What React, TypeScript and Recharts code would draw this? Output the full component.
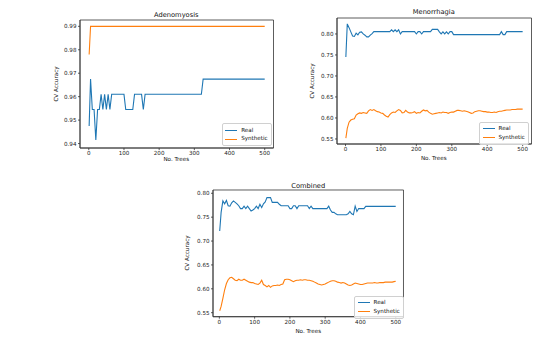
import { LineChart, Line, XAxis, YAxis, ReferenceArea } from 'recharts';

const BLUE = '#1f77b4';
const ORANGE = '#ff7f0e';
const FONT = '"DejaVu Sans", sans-serif';

// number of trees (x), sampled every 5
const trees = [1, ...Array.from({ length: 100 }, (_, i) => (i + 1) * 5)];
const adenoTrees = [1, 5, 10, 15, 20, 25, 30, 35, 40, 45, 50, 55, 60, 65, 70, 100, 105, 125, 130, 150, 155, 160, 320, 325, 500];

const xTicks = [0, 100, 200, 300, 400, 500];
const adenoTicks = [0.94, 0.95, 0.96, 0.97, 0.98, 0.99];
const accTicks = [0.55, 0.6, 0.65, 0.7, 0.75, 0.8];

const adenoReal = [0.9475, 0.9675, 0.9545, 0.9545, 0.9415, 0.9545, 0.9545, 0.961, 0.9545, 0.961, 0.9545, 0.961, 0.9545, 0.961, 0.961, 0.961, 0.9545, 0.9545, 0.961, 0.961, 0.9545, 0.961, 0.961, 0.9675, 0.9675];
const adenoSynthetic = [0.978, 0.99, 0.99, 0.99, 0.99, 0.99, 0.99, 0.99, 0.99, 0.99, 0.99, 0.99, 0.99, 0.99, 0.99, 0.99, 0.99, 0.99, 0.99, 0.99, 0.99, 0.99, 0.99, 0.99, 0.99];

const menoReal = [
  0.745, 0.824, 0.815, 0.805, 0.795, 0.794, 0.802, 0.798, 0.804, 0.805, 0.8,
  0.797, 0.793, 0.793, 0.797, 0.801, 0.8055, 0.8055, 0.8055, 0.8055, 0.8055,
  0.8055, 0.8055, 0.8055, 0.8055, 0.8055, 0.81, 0.8055, 0.81, 0.8055, 0.81,
  0.8, 0.8055, 0.8055, 0.8055, 0.8055, 0.8055, 0.8055, 0.8055, 0.8055, 0.8,
  0.8055, 0.8055, 0.8, 0.8055, 0.8055, 0.8055, 0.8055, 0.8055, 0.811, 0.811,
  0.811, 0.811, 0.805, 0.8, 0.805, 0.8, 0.805, 0.8, 0.8055, 0.8055,
  0.7985, 0.7985, 0.7985, 0.7985, 0.7985, 0.7985, 0.7985, 0.7985, 0.7985, 0.7985,
  0.7985, 0.7985, 0.7985, 0.7985, 0.7985, 0.7985, 0.7985, 0.7985, 0.7985, 0.7985,
  0.7985, 0.7985, 0.7985, 0.7985, 0.7985, 0.7985, 0.7985, 0.8055, 0.7985, 0.7985,
  0.8055, 0.8055, 0.8055, 0.8055, 0.8055, 0.8055, 0.8055, 0.8055, 0.8055, 0.8055,
];
const menoSynthetic = [
  0.552, 0.575, 0.59, 0.595, 0.597, 0.598, 0.607, 0.61, 0.612, 0.611, 0.613,
  0.612, 0.611, 0.617, 0.62, 0.618, 0.62, 0.617, 0.615, 0.614, 0.612,
  0.611, 0.607, 0.604, 0.602, 0.608, 0.612, 0.614, 0.613, 0.617, 0.62,
  0.618, 0.612, 0.613, 0.618, 0.614, 0.612, 0.612, 0.613, 0.615, 0.611,
  0.613, 0.612, 0.616, 0.619, 0.617, 0.618, 0.614, 0.611, 0.609, 0.61,
  0.611, 0.612, 0.613, 0.612, 0.614, 0.613, 0.613, 0.611, 0.613, 0.614,
  0.614, 0.616, 0.618, 0.618, 0.617, 0.616, 0.617, 0.616, 0.615, 0.613,
  0.611, 0.612, 0.615, 0.616, 0.617, 0.617, 0.616, 0.615, 0.615, 0.614,
  0.614, 0.613, 0.613, 0.614, 0.613, 0.615, 0.616, 0.616, 0.617, 0.618,
  0.619, 0.619, 0.619, 0.62, 0.62, 0.62, 0.621, 0.621, 0.621, 0.621,
];

const combReal = [
  0.721, 0.76, 0.784, 0.778, 0.785, 0.774, 0.773, 0.78, 0.784, 0.781, 0.778,
  0.774, 0.768, 0.768, 0.773, 0.768, 0.773, 0.768, 0.763, 0.765, 0.768,
  0.773, 0.768, 0.777, 0.77, 0.778, 0.782, 0.791, 0.791, 0.791, 0.781,
  0.781, 0.781, 0.781, 0.777, 0.774, 0.774, 0.774, 0.774, 0.774, 0.768,
  0.768, 0.774, 0.774, 0.768, 0.774, 0.774, 0.774, 0.774, 0.774, 0.774,
  0.768, 0.773, 0.768, 0.768, 0.768, 0.768, 0.768, 0.768, 0.768, 0.768,
  0.768, 0.773, 0.765, 0.76, 0.76, 0.757, 0.755, 0.755, 0.755, 0.755,
  0.755, 0.755, 0.757, 0.762, 0.757, 0.755, 0.773, 0.762, 0.768, 0.768,
  0.768, 0.768, 0.7727, 0.7727, 0.7727, 0.7727, 0.7727, 0.7727, 0.7727, 0.7727,
  0.7727, 0.7727, 0.7727, 0.7727, 0.7727, 0.7727, 0.7727, 0.7727, 0.7727, 0.7727,
];
const combSynthetic = [
  0.554, 0.563, 0.58, 0.598, 0.611, 0.619, 0.623, 0.624, 0.621, 0.618, 0.617,
  0.62, 0.618, 0.618, 0.62, 0.618, 0.616, 0.614, 0.613, 0.613, 0.611,
  0.61, 0.609, 0.612, 0.618, 0.609, 0.607, 0.604, 0.607, 0.603, 0.606,
  0.607, 0.607, 0.608, 0.607, 0.609, 0.61, 0.619, 0.62, 0.62, 0.619,
  0.617, 0.615, 0.617, 0.618, 0.618, 0.619, 0.618, 0.619, 0.619, 0.618,
  0.618, 0.617, 0.616, 0.614, 0.612, 0.61, 0.609, 0.608, 0.609, 0.61,
  0.612, 0.614, 0.616, 0.617, 0.617, 0.616, 0.614, 0.613, 0.612, 0.613,
  0.612, 0.61, 0.608, 0.607, 0.608, 0.61, 0.612, 0.611, 0.61, 0.609,
  0.609, 0.61, 0.611, 0.612, 0.612, 0.612, 0.612, 0.613, 0.612, 0.612,
  0.613, 0.613, 0.613, 0.614, 0.614, 0.614, 0.614, 0.614, 0.615, 0.616,
];

type Box = { x0: number; y0: number; x1: number; y1: number };
type Row = { t: number; real: number; synthetic: number };

const YW = 30;
const XH = 16;
const tickStyle = { fontSize: 5.6, fill: '#222', fontFamily: FONT };
const axisLine = { stroke: '#333', strokeWidth: 0.8 };

function rows(xs: number[], real: number[], synthetic: number[]): Row[] {
  return xs.map((t, i) => ({ t, real: real[i], synthetic: synthetic[i] }));
}

function Text({ x, y, size, children, rotate }: { x: number; y: number; size: number; children: string; rotate?: boolean }) {
  return (
    <div
      style={{
        position: 'absolute', left: x, top: y, fontSize: size, fontFamily: FONT, color: '#111',
        whiteSpace: 'nowrap', lineHeight: 1,
        transform: `translate(-50%, -50%)${rotate ? ' rotate(-90deg)' : ''}`,
      }}
    >
      {children}
    </div>
  );
}

function LegendBox({ x, y }: { x: number; y: number }) {
  const items = [{ name: 'Real', color: BLUE }, { name: 'Synthetic', color: ORANGE }];
  return (
    <div
      style={{
        position: 'absolute', left: x, top: y, padding: '2px 3px 2px 2.5px',
        border: '0.8px solid #d0d0d0', borderRadius: 2, background: 'rgba(255,255,255,0.8)',
      }}
    >
      {items.map(it => (
        <div key={it.name} style={{ display: 'flex', alignItems: 'center', height: 8.5 }}>
          <div style={{ width: 12, height: 1.1, background: it.color, marginRight: 4 }} />
          <span style={{ fontSize: 5.6, fontFamily: FONT, color: '#111', lineHeight: 1 }}>{it.name}</span>
        </div>
      ))}
    </div>
  );
}

interface PanelProps {
  title: string;
  data: Row[];
  box: Box;
  xDomain: [number, number];
  yDomain: [number, number];
  yTicks: number[];
  titleY: number;
  yLabelX: number;
  xLabelY: number;
  legend: { x: number; y: number };
}

function Panel({ title, data, box, xDomain, yDomain, yTicks, titleY, yLabelX, xLabelY, legend }: PanelProps) {
  const w = box.x1 - box.x0;
  const h = box.y1 - box.y0;
  return (
    <>
      <div style={{ position: 'absolute', left: box.x0 - YW, top: box.y0 - 1 }}>
        <LineChart width={YW + w + 1} height={1 + h + XH} data={data} margin={{ top: 1, right: 1, bottom: 0, left: 0 }}>
          <XAxis
            xAxisId="b" dataKey="t" type="number" domain={xDomain} ticks={xTicks} allowDataOverflow
            height={XH} tick={tickStyle} tickSize={2} tickMargin={1.5} axisLine={axisLine} tickLine={axisLine}
          />
          <YAxis
            yAxisId="l" type="number" domain={yDomain} ticks={yTicks} allowDataOverflow width={YW}
            tick={tickStyle} tickSize={2} tickMargin={1.5} axisLine={axisLine} tickLine={axisLine}
            tickFormatter={(v: number) => v.toFixed(2)}
          />
          <ReferenceArea
            xAxisId="b" yAxisId="l" x1={xDomain[0]} x2={xDomain[1]} y1={yDomain[0]} y2={yDomain[1]}
            fill="none" fillOpacity={0} stroke="#333" strokeWidth={0.8} ifOverflow="visible"
          />
          <Line xAxisId="b" yAxisId="l" dataKey="real" stroke={BLUE} strokeWidth={1.1} dot={false} isAnimationActive={false} />
          <Line xAxisId="b" yAxisId="l" dataKey="synthetic" stroke={ORANGE} strokeWidth={1.1} dot={false} isAnimationActive={false} />
        </LineChart>
      </div>
      <Text x={(box.x0 + box.x1) / 2} y={titleY} size={6.7}>{title}</Text>
      <Text x={yLabelX} y={(box.y0 + box.y1) / 2} size={5.6} rotate>CV Accuracy</Text>
      <Text x={(box.x0 + box.x1) / 2} y={xLabelY} size={5.6}>No. Trees</Text>
      <LegendBox x={legend.x} y={legend.y} />
    </>
  );
}

export default function App() {
  return (
    <div style={{ position: 'absolute', left: 0, top: 0, width: 545, height: 345, background: '#fff', overflow: 'hidden' }}>
      <Panel
        title="Adenomyosis"
        data={rows(adenoTrees, adenoReal, adenoSynthetic)}
        box={{ x0: 79.5, y0: 19.7, x1: 273, y1: 147.7 }}
        xDomain={[-25, 525]}
        yDomain={[0.9381, 0.9927]}
        yTicks={adenoTicks}
        titleY={15}
        yLabelX={56.7}
        xLabelY={160}
        legend={{ x: 221.7, y: 123.3 }}
      />
      <Panel
        title="Menorrhagia"
        data={rows(trees, menoReal, menoSynthetic)}
        box={{ x0: 336.5, y0: 18.3, x1: 531, y1: 144.3 }}
        xDomain={[-24, 525]}
        yDomain={[0.538, 0.838]}
        yTicks={accTicks}
        titleY={12.3}
        yLabelX={313}
        xLabelY={159}
        legend={{ x: 479, y: 121.7 }}
      />
      <Panel
        title="Combined"
        data={rows(trees, combReal, combSynthetic)}
        box={{ x0: 213, y0: 190, x1: 403.5, y1: 316.7 }}
        xDomain={[-18, 522]}
        yDomain={[0.5416, 0.8069]}
        yTicks={accTicks}
        titleY={185.7}
        yLabelX={188}
        xLabelY={331.7}
        legend={{ x: 354, y: 295.7 }}
      />
    </div>
  );
}
